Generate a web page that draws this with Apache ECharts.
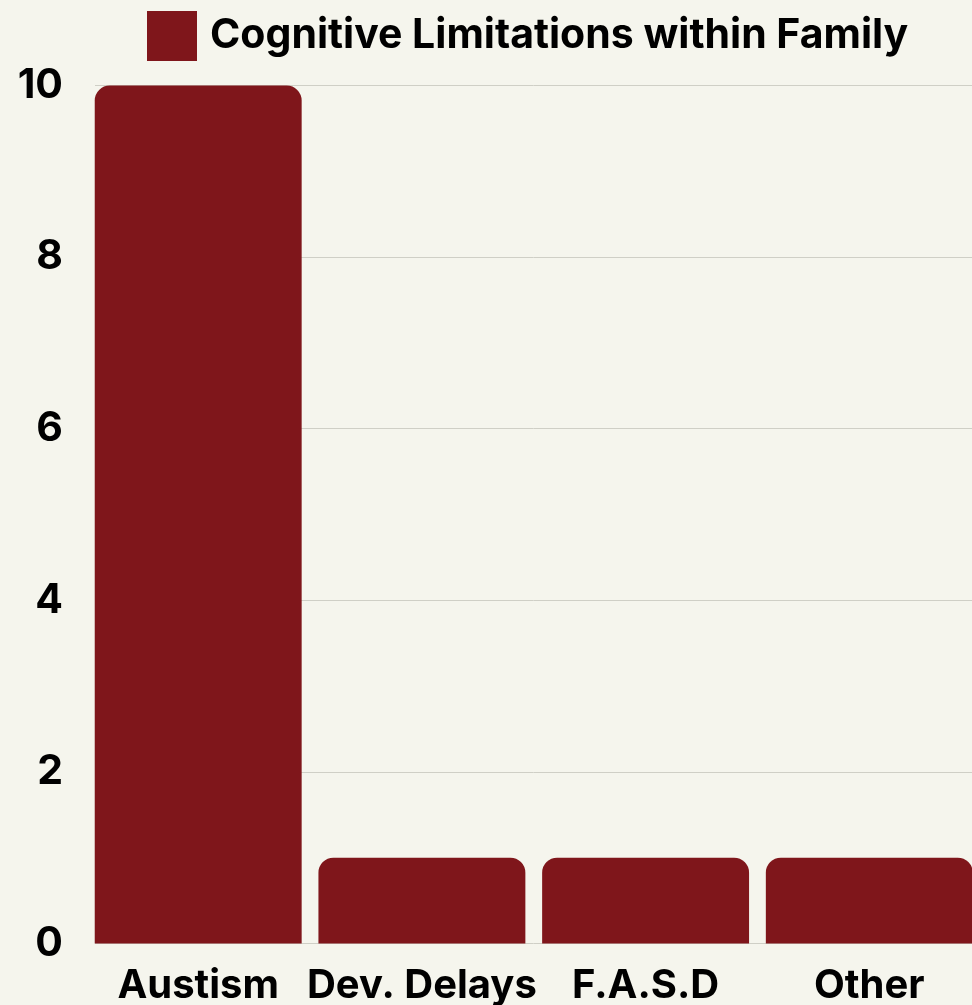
<!DOCTYPE html>
<html><head><meta charset="utf-8">
<script src="https://cdn.jsdelivr.net/npm/echarts@6/dist/echarts.min.js"></script>
<style>html,body{margin:0;padding:0;background:#f5f5ed;}#c{width:972px;height:1005px;}</style>
</head><body><div id="c"></div>
<script>
const categories = ['Austism', 'Dev. Delays', 'F.A.S.D', 'Other'];
const values = [10, 1, 1, 1];
const seriesName = 'Cognitive Limitations within Family';
const yMin = 0, yMax = 10, yInterval = 2;

const FONT = 'Inter';
const chart = echarts.init(document.getElementById('c'), null, {renderer: 'canvas'});
chart.setOption({
  backgroundColor: '#f5f5ed',
  animation: false,
  legend: {
    left: 147, top: 11, padding: 0,
    itemWidth: 50, itemHeight: 50, itemGap: 10,
    icon: 'rect',
    textStyle: {fontFamily: FONT, fontWeight: 'bold', fontSize: 41, color: '#000', padding: [0, 0, 0, 8]},
    data: [seriesName]
  },
  grid: [
    {left: 86.35, width: 894.8, top: 85.5, bottom: 61.5, containLabel: false, outerBoundsMode: 'none'},
    {left: 95, right: 0, top: 85.5, bottom: 61.5, containLabel: false, outerBoundsMode: 'none'}
  ],
  xAxis: [
    {type: 'category', gridIndex: 0, data: categories,
     axisLine: {show: false}, axisTick: {show: false},
     axisLabel: {interval: 0, fontFamily: FONT, fontWeight: 'bold', fontSize: 40, color: '#000', margin: 22}},
    {type: 'value', gridIndex: 1, show: false, min: 0, max: 1}
  ],
  yAxis: [
    {type: 'value', gridIndex: 0, min: yMin, max: yMax, interval: yInterval, show: false},
    {type: 'value', gridIndex: 1, min: yMin, max: yMax, interval: yInterval,
     axisLine: {show: false}, axisTick: {show: false},
     splitLine: {show: true, lineStyle: {color: '#cfcfc6', width: 1}},
     axisLabel: {fontFamily: FONT, fontWeight: 'bold', fontSize: 41, color: '#000', margin: 32}}
  ],
  series: [{
    name: seriesName, type: 'bar', xAxisIndex: 0, yAxisIndex: 0,
    data: values, barCategoryGap: '7.5%',
    itemStyle: {color: '#7f161b', borderRadius: [15, 15, 0, 0]}
  }]
});
</script></body></html>
